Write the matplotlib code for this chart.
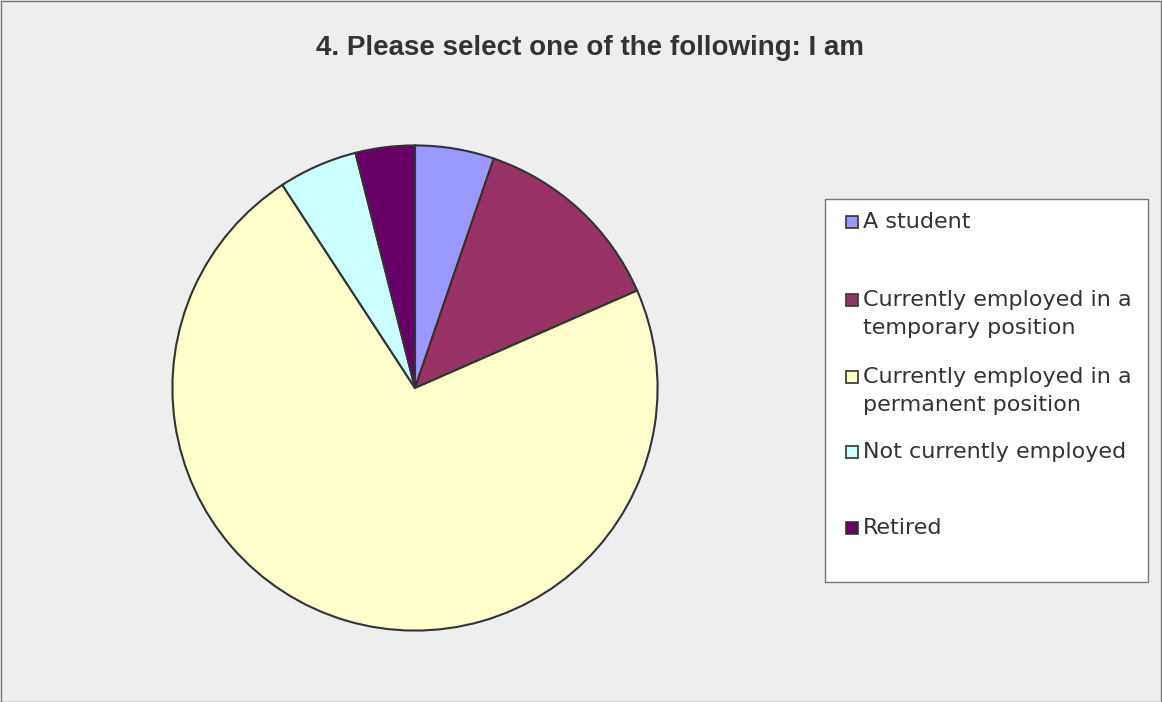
import matplotlib
matplotlib.use("Agg")
import matplotlib.pyplot as plt
from matplotlib.patches import Rectangle

plt.rcParams["font.family"] = ["Liberation Sans", "DejaVu Sans"]

title = "4. Please select one of the following: I am"
labels = [
    "A student",
    "Currently employed in a\ntemporary position",
    "Currently employed in a\npermanent position",
    "Not currently employed",
    "Retired",
]
counts = [4, 10, 55, 4, 3]
colors = ["#9999FF", "#993366", "#FFFFCC", "#CCFFFF", "#660066"]

W, H = 1162, 702
fig = plt.figure(figsize=(W / 100, H / 100), dpi=100)
fig.patch.set_facecolor("#EEEEEE")

# thin frame round the whole chart area
fig.add_artist(Rectangle((0.5 / W, 0.5 / H), 1 - 1.5 / W, 1 - 1.5 / H,
                         transform=fig.transFigure, fill=False,
                         edgecolor="#777777", linewidth=1.0))

fig.text(590 / W, 1 - 48 / H, title, ha="center", va="center",
         fontsize=20, fontweight="bold", color="#333333")

# pie: centre (415, 388) px, radius 245 px
cx, cy, r = 415, 388, 245
ax = fig.add_axes([(cx - r) / W, (H - cy - r) / H, 2 * r / W, 2 * r / H])
ax.pie(counts, colors=colors, startangle=90, counterclock=False,
       wedgeprops=dict(edgecolor="#333333", linewidth=1.5))
ax.set_xlim(-1.01, 1.01)
ax.set_ylim(-1.01, 1.01)
ax.set_aspect("equal")
ax.axis("off")

# legend box
bx0, by0, bx1, by1 = 825, 199, 1148, 582
fig.add_artist(Rectangle((bx0 / W, 1 - by1 / H), (bx1 - bx0) / W, (by1 - by0) / H,
                         transform=fig.transFigure, facecolor="white",
                         edgecolor="#777777", linewidth=1.0))

entry_y = [222, 300, 377, 452, 528]
line_h = 28
sq = 12
for lab, col, y in zip(labels, colors, entry_y):
    fig.add_artist(Rectangle((846 / W, 1 - (y + sq / 2) / H), sq / W, sq / H,
                             transform=fig.transFigure, facecolor=col,
                             edgecolor="#333333", linewidth=1.2))
    for i, line in enumerate(lab.split("\n")):
        fig.text(863 / W, 1 - (y + i * line_h) / H, line, ha="left",
                 va="center", fontsize=16, color="#333333",
                 family=["DejaVu Sans"])

fig.savefig("out.png", dpi=100, facecolor=fig.get_facecolor())
